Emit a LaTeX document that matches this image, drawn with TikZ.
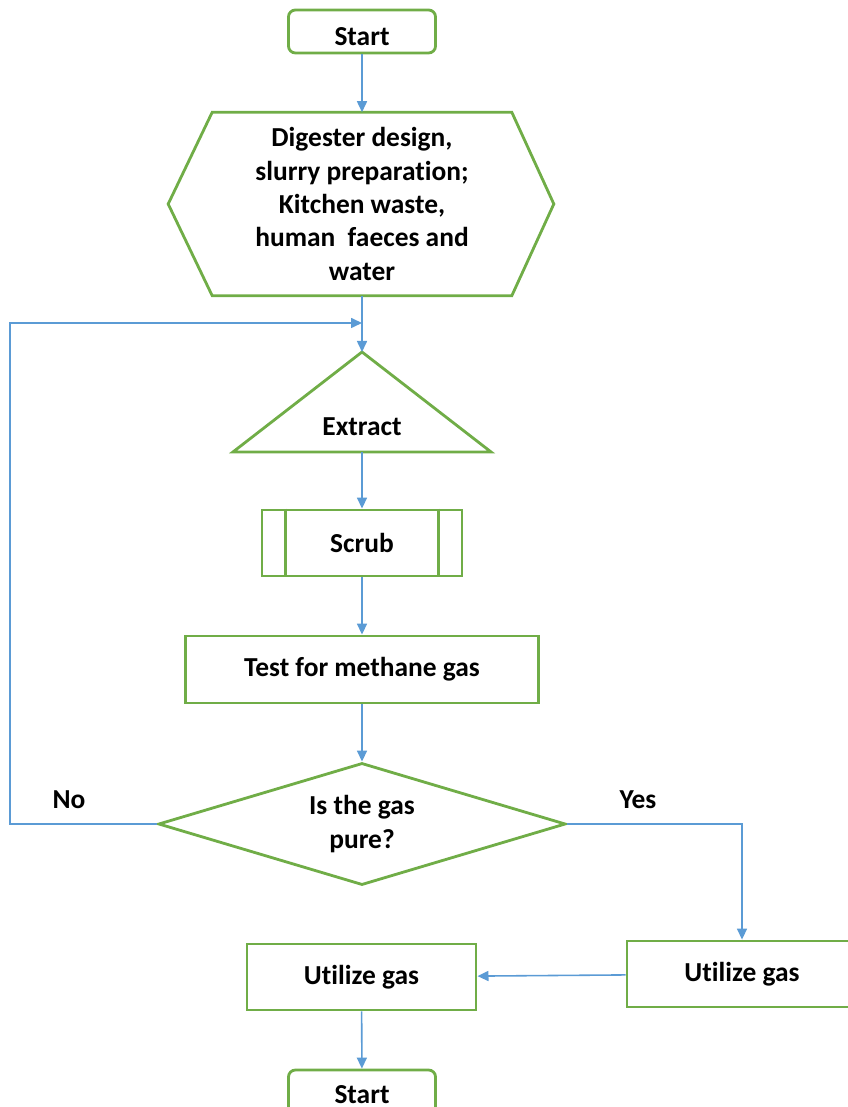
\documentclass[tikz,border=0pt]{standalone}
\usepackage{fontspec}
\setmainfont{Carlito}[RawFeature={-liga,-clig,-calt}]
\usepackage{xcolor}
\usepackage{tikz}
\usetikzlibrary{arrows.meta,shapes.geometric}
\definecolor{boxgreen}{HTML}{70AD47}
\definecolor{linkblue}{HTML}{5B9BD5}
\tikzstyle{arrow} = [-{Triangle[length=0.11cm,width=0.1cm]}, draw=linkblue, line width=0.45pt]
\tikzstyle{box} = [draw=boxgreen, line width=0.8pt, inner sep=0pt, align=center]
\tikzstyle{outline} = [draw=boxgreen, line width=0.8pt]

\begin{document}
\begin{tikzpicture}[x=0.01cm, y=-0.01cm, every node/.style={font=\bfseries\fontsize{7.8}{9.5}\selectfont}]
		\useasboundingbox (0,0) rectangle (847,1107);

		\node (start) [box, rounded corners=0.07cm, minimum width=1.47cm, minimum height=0.43cm, text height=8pt, text depth=0pt] at (362,31.5) {Start};
		\node (prep) [align=center, inner sep=0pt, minimum width=2.98cm, minimum height=1.82cm] at (362,204) {Digester design,\\slurry preparation;\\Kitchen waste,\\human\ \ faeces and\\water};
		\coordinate (apex) at (362,352);
		\node (extract) at (362,427) {Extract};
		\coordinate (base) at (362,452);
		\node (scrub) [box, minimum width=2cm, minimum height=0.66cm] at (362,543) {Scrub};
		\node (test) [box, minimum width=3.52cm, minimum height=0.67cm] at (362,669.5) {Test for methane gas};
		\node (check) [box, diamond, aspect=3.34, minimum width=4.07cm, minimum height=1.22cm] at (362,824) {Is the gas\\pure?};
		\node (no) at (69,800) {No};
		\node (yes) at (638,800) {Yes};
		\node (useB) [box, minimum width=2.3cm, minimum height=0.66cm] at (742,974) {Utilize gas};
		\node (useA) [box, minimum width=2.29cm, minimum height=0.66cm] at (361.5,977) {Utilize gas};
		\node (finish) [box, rounded corners=0.07cm, minimum width=1.47cm, minimum height=0.46cm, text height=6pt, text depth=0pt] at (362,1093) {Start};
		\coordinate (back) at (10,323);
		\coordinate (loop) at (362,323);

		\draw [outline] (prep.north west) -- (prep.north east) -- ([xshift=0.42cm]prep.east) -- (prep.south east) -- (prep.south west) -- ([xshift=-0.44cm]prep.west) -- cycle;
		\draw [outline] (apex) -- ([xshift=1.29cm]base) -- ([xshift=-1.29cm]base) -- cycle;
		\draw [outline] ([xshift=0.25cm]scrub.north west) -- ([xshift=0.25cm]scrub.south west)
			([xshift=-0.25cm]scrub.north east) -- ([xshift=-0.25cm]scrub.south east);

		\draw [arrow] (start) -- (prep);
		\draw [arrow] (prep) -- (apex);
		\draw [arrow] (check.west) -| (back) -- (loop);
		\draw [arrow] (base) -- (scrub);
		\draw [arrow] (scrub) -- (test);
		\draw [arrow] (test) -- (check);
		\draw [arrow] (check.east) -| (useB.north);
		\draw [arrow] (useB) -- (useA);
		\draw [arrow] (useA) -- (finish);
	\end{tikzpicture}
\end{document}
